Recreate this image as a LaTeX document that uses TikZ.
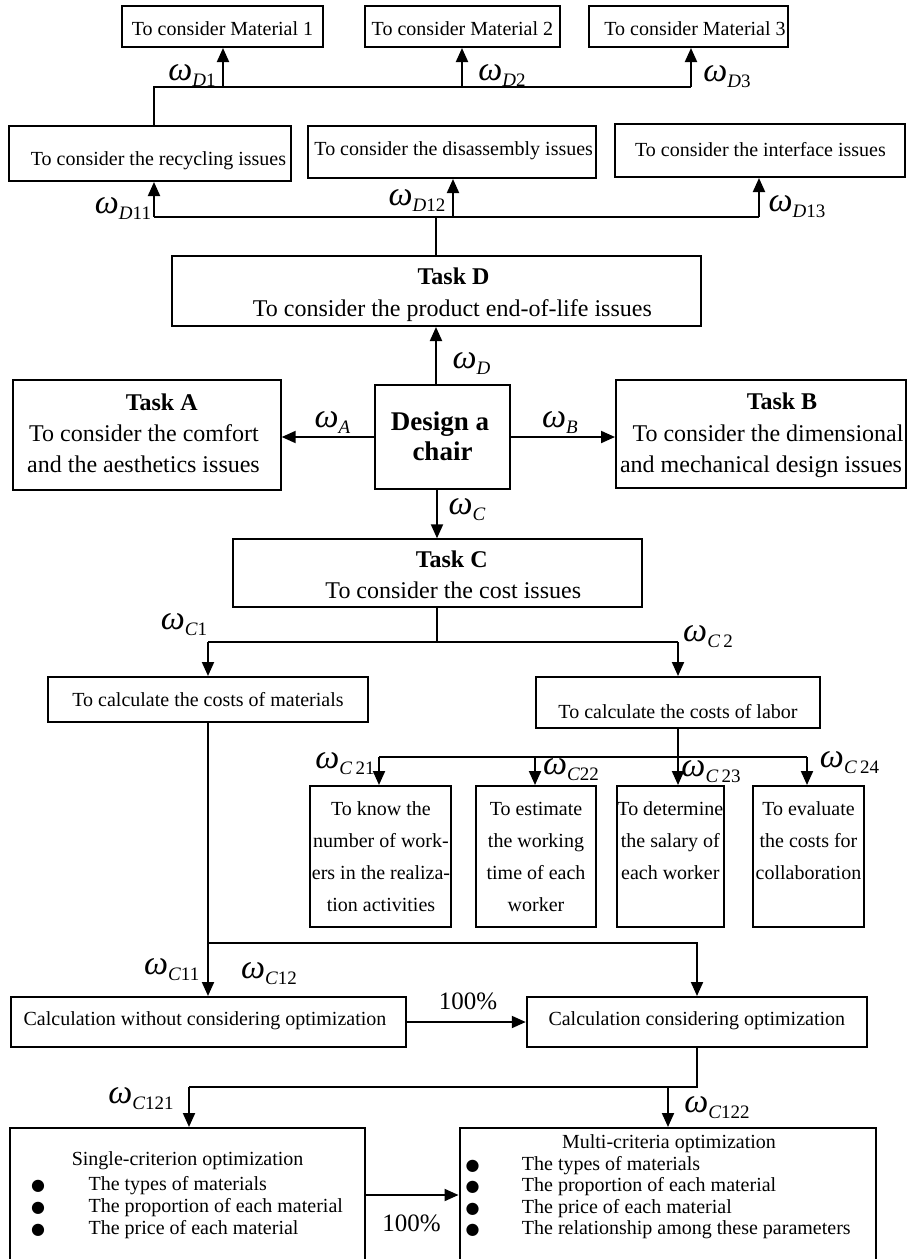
\documentclass[tikz,border=0pt]{standalone}
\usepackage{fontspec}
\setmainfont{Liberation Serif}
\newfontfamily\bulletfont{DejaVu Sans}
\usetikzlibrary{arrows.meta,calc}
\newcommand{\wlab}[2]{{\fontsize{34}{34}\selectfont\itshape ω}\raisebox{-6pt}{\fontsize{19}{19}\selectfont\itshape #1\/\upshape #2}}
\newcommand{\bul}{\makebox[0pt][c]{\bulletfont\fontsize{16}{16}\selectfont ●}}
\begin{document}
\begin{tikzpicture}[x=1pt,y=-1pt,
  box/.style={draw,line width=2pt,inner sep=0pt},
  ln/.style={line width=2pt},
  arr/.style={line width=2pt,-{Triangle[length=14pt,width=12pt]}},
  sm/.style={inner sep=0pt,anchor=base,font=\fontsize{20}{24}\selectfont},
  lg/.style={inner sep=0pt,anchor=base,font=\fontsize{24}{28}\selectfont},
  lgb/.style={inner sep=0pt,anchor=base,font=\fontsize{24}{28}\selectfont\bfseries},
  dcb/.style={inner sep=0pt,anchor=base,font=\fontsize{27}{30}\selectfont\bfseries},
  wl/.style={inner sep=0pt},
  pct/.style={inner sep=0pt,font=\fontsize{25}{28}\selectfont},
  col/.style={inner sep=0pt,anchor=base,font=\fontsize{20}{32}\selectfont}]
\useasboundingbox (0,0) rectangle (912,1259);
\fill[white] (0,0) rectangle (912,1259);

% ---------- boxes ----------
\node[box,minimum width=201pt,minimum height=41pt] (m1) at (222.5,26.5) {};
\node[box,minimum width=195pt,minimum height=41pt] (m2) at (462.5,26.5) {};
\node[box,minimum width=199pt,minimum height=41pt] (m3) at (688.5,26.5) {};
\node[box,minimum width=282pt,minimum height=55pt] (rec) at (150,153.5) {};
\node[box,minimum width=288pt,minimum height=52pt] (dis) at (452,152) {};
\node[box,minimum width=290pt,minimum height=53pt] (int) at (760,150.5) {};
\node[box,minimum width=529pt,minimum height=70pt] (td) at (436,291) {};
\node[box,minimum width=268pt,minimum height=110pt] (ta) at (146.7,435) {};
\node[box,minimum width=135pt,minimum height=104pt] (dc) at (442.5,437) {};
\node[box,minimum width=290pt,minimum height=108pt] (tb) at (761,434) {};
\node[box,minimum width=409pt,minimum height=68pt] (tc) at (437,573.3) {};
\node[box,minimum width=320pt,minimum height=45pt] (mat) at (208,699.5) {};
\node[box,minimum width=284pt,minimum height=51pt] (lab) at (678,702.5) {};
\node[box,minimum width=141.5pt,minimum height=141pt] (b1) at (380.3,856.5) {};
\node[box,minimum width=120pt,minimum height=141pt] (b2) at (536,856.5) {};
\node[box,minimum width=107.4pt,minimum height=141pt] (b3) at (670.3,856.5) {};
\node[box,minimum width=111pt,minimum height=141pt] (b4) at (808.5,856.5) {};
\node[box,minimum width=395.5pt,minimum height=50pt] (cnone) at (208.3,1022) {};
\node[box,minimum width=340.5pt,minimum height=50pt] (copt) at (697,1022) {};
\node[box,minimum width=354.5pt,minimum height=134pt] (single) at (187.7,1195) {};
\node[box,minimum width=416pt,minimum height=134pt] (multi) at (667.5,1195) {};

% ---------- texts ----------
\node[sm] (tm1) at (222.5,35) {To consider Material 1};
\node[sm] (tm2) at (462.4,35) {To consider Material 2};
\node[sm] (tm3) at (695,35) {To consider Material 3};
\node[sm] (trec) at (158.5,165) {To consider the recycling issues};
\node[sm] (tdis) at (453.7,155) {To consider the disassembly issues};
\node[sm] (tint) at (760.5,156) {To consider the interface issues};
\node[lgb] (td1) at (453.5,284.5) {Task D};
\node[lg] (td2) at (452.4,316) {To consider the product end-of-life issues};
\node[lgb] (ta1) at (161.7,410) {Task A};
\node[lg] (ta2) at (144,441) {To consider the comfort};
\node[lg] (ta3) at (143.5,472) {and the aesthetics issues};
\node[dcb] (dc1) at (440,430) {Design a};
\node[dcb] (dc2) at (442.5,460) {chair};
\node[lgb] (tb1) at (782,409) {Task B};
\node[lg] (tb2) at (768,441) {To consider the dimensional};
\node[lg] (tb3) at (761,472) {and mechanical design issues};
\node[lgb] (tc1) at (451.7,567.3) {Task C};
\node[lg] (tc2) at (453.3,598.3) {To consider the cost issues};
\node[sm] (tmat) at (208,706) {To calculate the costs of materials};
\node[sm] (tlab) at (678,718) {To calculate the costs of labor};
\node[col] (tb1x) at (381,815) {\begin{tabular}[t]{@{}c@{}}To know the\\number of work-\\ers in the realiza-\\tion activities\end{tabular}};
\node[col] (tb2x) at (536,815) {\begin{tabular}[t]{@{}c@{}}To estimate\\the working\\time of each\\worker\end{tabular}};
\node[col] (tb3x) at (670.3,815) {\begin{tabular}[t]{@{}c@{}}To determine\\the salary of\\each worker\end{tabular}};
\node[col] (tb4x) at (808.5,815) {\begin{tabular}[t]{@{}c@{}}To evaluate\\the costs for\\collaboration\end{tabular}};
\node[sm] (tcn) at (205,1025) {Calculation without considering optimization};
\node[sm] (tco) at (696.8,1025) {Calculation considering optimization};
\node[sm] (ts0) at (187.6,1165) {Single-criterion optimization};
\node[inner sep=0pt,anchor=base west,font=\fontsize{20}{22}\selectfont] (tsl) at (37.8,1190)
  {\fontsize{20}{22}\selectfont\begin{tabular}[t]{@{}l@{}}\bul\hspace{50.6pt}The types of materials\\\bul\hspace{50.6pt}The proportion of each material\\\bul\hspace{50.6pt}The price of each material\end{tabular}};
\node[sm] (tm0) at (669,1148.3) {Multi-criteria optimization};
\node[inner sep=0pt,anchor=base west,font=\fontsize{20}{21.5}\selectfont] (tml) at (472.3,1170)
  {\fontsize{20}{21.5}\selectfont\begin{tabular}[t]{@{}l@{}}\bul\hspace{49.4pt}The types of materials\\\bul\hspace{49.4pt}The proportion of each material\\\bul\hspace{49.4pt}The price of each material\\\bul\hspace{49.4pt}The relationship among these parameters\end{tabular}};

% ---------- connectors ----------
\coordinate (jT) at (154,87);
\coordinate (jT1) at (223,87);
\coordinate (jT2) at (462,87);
\coordinate (jT3) at (691,87);
\draw[ln] (jT |- rec.north) -- (jT) -- (jT3);
\draw[arr] (jT1) -- (jT1 |- m1.south);
\draw[arr] (jT2) -- (jT2 |- m2.south);
\draw[arr] (jT3) -- (jT3 |- m3.south);

\coordinate (jD0) at (436,217);
\coordinate (jD1) at (154,217);
\coordinate (jD2) at (453,217);
\coordinate (jD3) at (759,217);
\draw[ln] (td.north) -- (jD0);
\draw[ln] (jD1) -- (jD3);
\draw[arr] (jD1) -- (jD1 |- rec.south);
\draw[arr] (jD2) -- (jD2 |- dis.south);
\draw[arr] (jD3) -- (jD3 |- int.south);

\draw[arr] (td.south |- dc.north) -- (td.south);
\draw[arr] (dc.west) -- (dc.west -| ta.east);
\draw[arr] (dc.east) -- (dc.east -| tb.west);
\draw[arr] (tc.north |- dc.south) -- (tc.north);

\coordinate (jC) at (437,642);
\coordinate (jC1) at (208,642);
\coordinate (jC2) at (678,642);
\draw[ln] (tc.south) -- (jC);
\draw[ln] (jC1) -- (jC2);
\draw[arr] (jC1) -- (mat.north);
\draw[arr] (jC2) -- (lab.north);

\coordinate (jL) at (678,757);
\coordinate (jL1) at (379,757);
\coordinate (jL2) at (535,757);
\coordinate (jL4) at (807,757);
\draw[ln] (lab.south) -- (jL);
\draw[ln] (jL1) -- (jL4);
\draw[arr] (jL1) -- (jL1 |- b1.north);
\draw[arr] (jL2) -- (jL2 |- b2.north);
\draw[arr] (jL) -- (jL |- b3.north);
\draw[arr] (jL4) -- (jL4 |- b4.north);

\coordinate (jM) at (208,943);
\coordinate (jM2) at (697,943);
\draw[ln] (mat.south) -- (jM);
\draw[arr] (jM) -- (jM |- cnone.north);
\draw[arr] (jM) -- (jM2) -- (jM2 |- copt.north);
\draw[arr] (cnone.east) -- (copt.west);

\coordinate (jO) at (697,1087);
\coordinate (jO1) at (189,1087);
\coordinate (jO2) at (668,1087);
\draw[ln] (copt.south) -- (jO) -- (jO1);
\draw[arr] (jO1) -- (jO1 |- single.north);
\draw[arr] (jO2) -- (jO2 |- multi.north);
\draw[arr] (single.east) -- (multi.west);

% ---------- labels ----------
\node[wl] (lD1) at (192,75.5) {\wlab{D}{1}};
\node[wl] (lD2) at (502,75.5) {\wlab{D}{2}};
\node[wl] (lD3) at (727,77) {\wlab{D}{3}};
\node[wl] (lD11) at (123,208.5) {\wlab{D}{11}};
\node[wl] (lD12) at (417,200.5) {\wlab{D}{12}};
\node[wl] (lD13) at (797,206.5) {\wlab{D}{13}};
\node[wl] (lD) at (471.5,364) {\wlab{D}{}};
\node[wl] (lA) at (332.5,423) {\wlab{A}{}};
\node[wl] (lB) at (560,423) {\wlab{B}{}};
\node[wl] (lC) at (467,510) {\wlab{C}{}};
\node[wl] (lC1) at (184,625) {\wlab{C}{1}};
\node[wl] (lC2) at (708,637) {\wlab{C}{\,2}};
\node[wl] (lC21) at (345,764) {\wlab{C}{\,21}};
\node[wl] (lC22) at (571,770) {\wlab{C}{22}};
\node[wl] (lC23) at (711,771.5) {\wlab{C}{\,23}};
\node[wl] (lC24) at (849.5,762.5) {\wlab{C}{\,24}};
\node[wl] (lC11) at (171.7,970) {\wlab{C}{11}};
\node[wl] (lC12) at (269,974) {\wlab{C}{12}};
\node[wl] (lC121) at (141,1099) {\wlab{C}{121}};
\node[wl] (lC122) at (717,1107.5) {\wlab{C}{122}};
\node[pct] (p1) at (468,1001.5) {100\%};
\node[pct] (p2) at (411.5,1223.5) {100\%};
\end{tikzpicture}
\end{document}
